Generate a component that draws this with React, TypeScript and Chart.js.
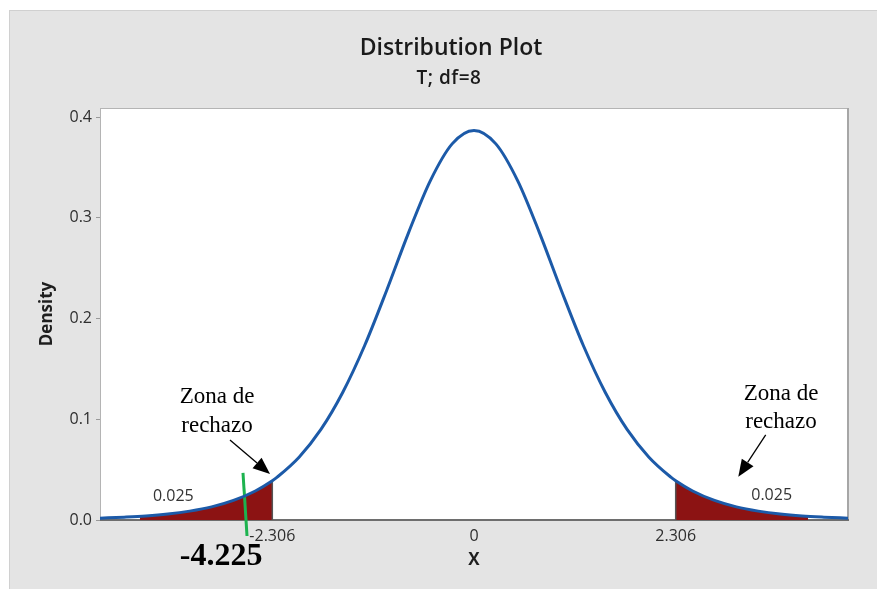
import React, { useEffect, useRef } from "react";
import { Chart, registerables } from "chart.js";
Chart.register(...registerables);

const titleText = "Distribution Plot";
const subtitleText = "T; df=8";
const xTitle = "X";
const yTitle = "Density";

const xMin = -4.276;
const xMax = 4.276;
const yMin = 0;
const yMax = 0.409;
const xTicks = [-2.306, 0, 2.306];
const yTicks = [0, 0.1, 0.2, 0.3, 0.4];

// density curve
const curveX = [-4.276, -4, -3.75, -3.5, -3.25, -3, -2.75, -2.5, -2.306, -2.25, -2, -1.75, -1.5, -1.25, -1, -0.75, -0.5, -0.25, 0, 0.25, 0.5, 0.75, 1, 1.25, 1.5, 1.75, 2, 2.25, 2.306, 2.5, 2.75, 3, 3.25, 3.5, 3.75, 4, 4.276];
const curveY = [0.0018, 0.0028, 0.004, 0.0059, 0.0088, 0.013, 0.0194, 0.0288, 0.039, 0.0426, 0.0624, 0.0899, 0.1268, 0.1732, 0.2276, 0.2848, 0.3367, 0.3734, 0.3867, 0.3734, 0.3367, 0.2848, 0.2276, 0.1732, 0.1268, 0.0899, 0.0624, 0.0426, 0.039, 0.0288, 0.0194, 0.013, 0.0088, 0.0059, 0.004, 0.0028, 0.0018];

// shaded tails
const leftTailX = [-3.82, -3.75, -3.5, -3.25, -3, -2.75, -2.5, -2.306];
const leftTailY = [0.0037, 0.004, 0.0059, 0.0088, 0.013, 0.0194, 0.0288, 0.039];
const rightTailX = [2.306, 2.5, 2.75, 3, 3.25, 3.5, 3.75, 3.82];
const rightTailY = [0.039, 0.0288, 0.0194, 0.013, 0.0088, 0.0059, 0.004, 0.0037];

const criticalValue = 2.306;
const criticalDensity = 0.039;
const tailAreaLabel = "0.025";

// green marker line (data units)
const markerX = [-2.641, -2.595];
const markerY = [0.0467, -0.0159];
const markerLabel = "-4.225";

const zoneLines = ["Zona de", "rechazo"];

function pts(xs: number[], ys: number[]) {
  return xs.map((x, i) => ({ x, y: ys[i] }));
}

const decoPlugin = {
  id: "deco",
  beforeDraw(chart: any) {
    const { ctx, chartArea: a } = chart;
    ctx.save();
    ctx.fillStyle = "#ffffff";
    ctx.fillRect(a.left, a.top, a.right - a.left, a.bottom - a.top);
    ctx.fillStyle = "#1a1a1a";
    ctx.textAlign = "center";
    ctx.textBaseline = "middle";
    ctx.font = "600 23px 'Open Sans'";
    ctx.fillText(titleText, 451, 48);
    ctx.font = "600 19px 'Open Sans'";
    try { (ctx as any).letterSpacing = "0.5px"; } catch (e) {}
    ctx.fillText(subtitleText, 449, 79);
    try { (ctx as any).letterSpacing = "0px"; } catch (e) {}
    ctx.restore();
  },
  beforeDatasetsDraw(chart: any) {
    const { ctx, chartArea: a } = chart;
    ctx.save();
    ctx.lineWidth = 1;
    ctx.strokeStyle = "#b4b4b4";
    ctx.beginPath();
    ctx.moveTo(a.left, a.top + 0.5);
    ctx.lineTo(a.right, a.top + 0.5);
    ctx.moveTo(a.left + 0.5, a.top);
    ctx.lineTo(a.left + 0.5, a.bottom);
    ctx.stroke();
    ctx.lineWidth = 2;
    ctx.strokeStyle = "#a6a6a6";
    ctx.beginPath();
    ctx.moveTo(a.right, a.top);
    ctx.lineTo(a.right, a.bottom);
    ctx.stroke();
    ctx.strokeStyle = "#6e6e6e";
    ctx.beginPath();
    ctx.moveTo(a.left, a.bottom);
    ctx.lineTo(a.right + 1, a.bottom);
    ctx.stroke();
    ctx.restore();
  },
  afterDatasetsDraw(chart: any) {
    const { ctx } = chart;
    const xs = chart.scales.x;
    const ys = chart.scales.y;
    const px = (v: number) => xs.getPixelForValue(v);
    const py = (v: number) => ys.getPixelForValue(v);
    ctx.save();
    // tail area labels
    ctx.fillStyle = "#333333";
    ctx.font = "16px 'Open Sans'";
    ctx.textAlign = "center";
    ctx.textBaseline = "middle";
    ctx.fillText(tailAreaLabel, px(-3.438), py(0.0238));
    ctx.fillText(tailAreaLabel, px(3.403), py(0.0245));
    // zone texts
    ctx.fillStyle = "#000000";
    ctx.font = "23px 'Liberation Serif'";
    ctx.textBaseline = "alphabetic";
    ctx.fillText(zoneLines[0], px(-2.938), py(0.1162));
    ctx.fillText(zoneLines[1], px(-2.938), py(0.1162) + 29);
    ctx.fillText(zoneLines[0], px(3.51), py(0.1191));
    ctx.fillText(zoneLines[1], px(3.51), py(0.1191) + 28);
    // arrows
    const arrow = (x0: number, y0: number, x1: number, y1: number) => {
      const ax = px(x0), ay = py(y0), bx = px(x1), by = py(y1);
      const ang = Math.atan2(by - ay, bx - ax);
      const head = 17, half = 7;
      const hx = bx - head * Math.cos(ang), hy = by - head * Math.sin(ang);
      ctx.strokeStyle = "#000";
      ctx.lineWidth = 1.3;
      ctx.beginPath();
      ctx.moveTo(ax, ay);
      ctx.lineTo(hx, hy);
      ctx.stroke();
      ctx.fillStyle = "#000";
      ctx.beginPath();
      ctx.moveTo(bx, by);
      ctx.lineTo(hx + half * Math.sin(ang), hy - half * Math.cos(ang));
      ctx.lineTo(hx - half * Math.sin(ang), hy + half * Math.cos(ang));
      ctx.closePath();
      ctx.fill();
    };
    arrow(-2.79, 0.0794, -2.332, 0.0457);
    arrow(3.335, 0.0844, 3.022, 0.043);
    // marker label
    ctx.font = "bold 32px 'Liberation Serif'";
    ctx.fillStyle = "#000";
    ctx.fillText(markerLabel, px(-2.892), py(-0.0447));
    ctx.restore();
  },
};

export default function App() {
  const ref = useRef<HTMLCanvasElement | null>(null);
  useEffect(() => {
    if (!ref.current) return;
    Chart.defaults.font.family = "'Open Sans', sans-serif";
    const chart = new Chart(ref.current, {
      type: "line",
      data: {
        datasets: [
          {
            data: pts(curveX, curveY),
            borderColor: "#1c5aa8",
            borderWidth: 3,
            pointRadius: 0,
            cubicInterpolationMode: "monotone",
            fill: false,
            order: 0,
          },
          {
            data: pts(markerX, markerY),
            borderColor: "#1db34f",
            borderWidth: 3,
            pointRadius: 0,
            fill: false,
            clip: false,
            order: 1,
          },
          {
            data: pts([-criticalValue, -criticalValue], [0, criticalDensity]),
            borderColor: "#555555",
            borderWidth: 1.5,
            pointRadius: 0,
            fill: false,
            order: 2,
          },
          {
            data: pts([criticalValue, criticalValue], [0, criticalDensity]),
            borderColor: "#555555",
            borderWidth: 1.5,
            pointRadius: 0,
            fill: false,
            order: 3,
          },
          {
            data: pts(leftTailX, leftTailY),
            borderWidth: 0,
            borderColor: "rgba(0,0,0,0)",
            backgroundColor: "#8c1313",
            pointRadius: 0,
            cubicInterpolationMode: "monotone",
            fill: "origin",
            order: 4,
          },
          {
            data: pts(rightTailX, rightTailY),
            borderWidth: 0,
            borderColor: "rgba(0,0,0,0)",
            backgroundColor: "#8c1313",
            pointRadius: 0,
            cubicInterpolationMode: "monotone",
            fill: "origin",
            order: 5,
          },
        ] as any,
      },
      options: {
        animation: false,
        responsive: false,
        devicePixelRatio: 1,
        layout: { padding: { left: 0, top: 108, right: 29, bottom: 0 } },
        plugins: { legend: { display: false }, tooltip: { enabled: false }, title: { display: false } },
        scales: {
          x: {
            type: "linear",
            min: xMin,
            max: xMax,
            afterBuildTicks: (s: any) => {
              s.ticks = xTicks.map((v) => ({ value: v }));
            },
            afterFit: (s: any) => {
              s.height = 69;
            },
            ticks: {
              color: "#2e2e2e",
              font: { size: 16 },
              padding: 7,
              maxRotation: 0,
              autoSkip: false,
              callback: (v: any) => (v === 0 ? "0" : Number(v).toFixed(3)),
            },
            grid: { display: false, drawTicks: false },
            border: { display: false },
            title: {
              display: true,
              text: xTitle,
              color: "#1e1e1e",
              font: { size: 17, weight: "bold" },
              padding: { top: 0, bottom: 19 },
            },
          },
          y: {
            type: "linear",
            min: yMin,
            max: yMax,
            afterBuildTicks: (s: any) => {
              s.ticks = yTicks.map((v) => ({ value: v }));
            },
            afterFit: (s: any) => {
              s.width = 100;
            },
            ticks: {
              color: "#2e2e2e",
              font: { size: 16 },
              padding: 4,
              callback: (v: any) => Number(v).toFixed(1),
            },
            grid: { drawOnChartArea: false, drawTicks: true, tickLength: 4, color: "#999999" },
            border: { display: false },
            title: {
              display: true,
              text: yTitle,
              color: "#1e1e1e",
              font: { size: 17, weight: "bold" },
              padding: { top: 37, bottom: 0 },
            },
          },
        },
      } as any,
      plugins: [decoPlugin],
    });
    return () => chart.destroy();
  }, []);

  return (
    <div style={{ position: "fixed", left: 0, top: 0, width: 877, height: 589, background: "#ffffff", overflow: "hidden" }}>
      <div
        style={{
          position: "absolute",
          left: 9,
          top: 10,
          width: 877,
          height: 589,
          background: "#e4e4e4",
          border: "1px solid #d0d0d0",
        }}
      />
      <canvas ref={ref} width={877} height={589} style={{ position: "absolute", left: 0, top: 0 }} />
    </div>
  );
}
